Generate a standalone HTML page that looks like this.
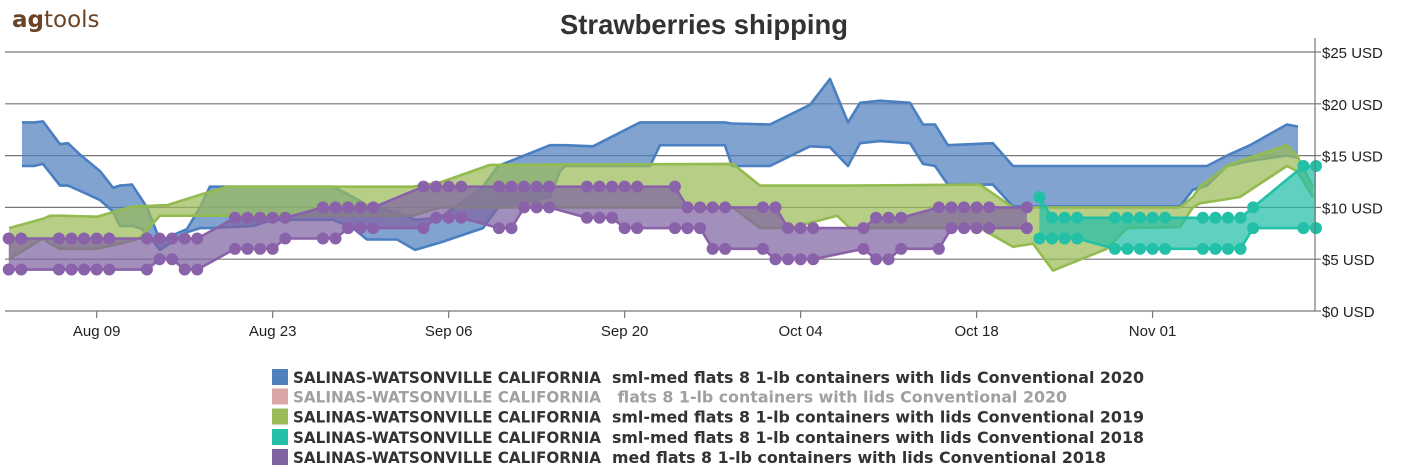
<!DOCTYPE html>
<html><head><meta charset="utf-8"><style>
html,body{margin:0;padding:0;background:#fff;}
svg{display:block;}
text{font-family:"Liberation Sans",sans-serif;}
</style></head><body>
<svg id="chart" width="1410" height="471" viewBox="0 0 1410 471" xmlns="http://www.w3.org/2000/svg">
<text x="12" y="27" font-size="23" fill="#6b4426" style="font-family:'DejaVu Sans',sans-serif"><tspan font-weight="bold">ag</tspan>tools</text>
<text x="704" y="34" text-anchor="middle" font-size="28" font-weight="bold" fill="#333" textLength="288" lengthAdjust="spacingAndGlyphs">Strawberries shipping</text>
<g id="grid"></g>
<g id="series"></g>
<g id="axes"></g>
<g id="legend"></g>
</svg>
<script>
// y-axis ticks
const yTicks = [0, 5, 10, 15, 20, 25];
const yTickLabels = ["$0 USD", "$5 USD", "$10 USD", "$15 USD", "$20 USD", "$25 USD"];
// x-axis ticks (day index from Aug 02)
const xTickDays = [7, 21, 35, 49, 63, 77, 91];
const xTickLabels = ["Aug 09", "Aug 23", "Sep 06", "Sep 20", "Oct 04", "Oct 18", "Nov 01"];

// 2020 sml-med (blue)
const blueDays = [1.06,2.01,2.73,4.08,4.72,5.67,7.26,8.3,8.85,9.81,10.45,11.0,12.04,14.18,15.22,16.01,19.44,21.03,25.8,27.39,28.5,30.89,32.32,34.31,37.73,38.93,43.06,43.86,44.26,46.48,50.22,51.02,51.81,56.98,57.54,60.56,63.75,65.34,66.77,67.73,69.32,71.7,72.74,73.69,74.72,78.3,79.9,93.18,94.21,95.33,96.92,98.75,101.69,102.57];
const blueLow  = [14,14,14.2,12.1,12.1,11.6,10.7,9.6,8.2,8.2,8,7.5,5.9,7.6,8,8,8.2,8.8,8.8,8,6.9,6.9,5.9,6.6,8,10,11,13.5,14,14,14,14,16,16,14,14,15.9,15.8,14,16.2,16.4,16.2,14.2,14,12.2,12.2,10.1,10.1,11.7,12.1,14,14.5,15,14.8];
const blueHigh = [18.2,18.2,18.3,16.1,16.2,15.1,13.5,11.9,12.1,12.2,11,10,6.8,7.9,10,12,12,12,12,11,10.2,9.5,8.8,9,12,14,16,16,16,15.9,18.2,18.2,18.2,18.2,18.1,18,19.9,22.4,18.2,20.1,20.3,20.1,18,18,16,16.2,14,14,14,14,15,16,18,17.8];

// 2019 sml-med (green)
const greenDays = [0.02,2.73,3.29,4.08,7.02,9.89,10.45,12.04,12.59,15.46,17.37,32.16,34.31,38.29,57.62,59.77,62.16,65.9,66.93,77.27,79.9,81.49,83.08,87.37,88.96,93.18,94.21,94.77,96.92,97.95,101.69,102.49,103.76];
const greenLow  = [5,7,6.5,6,6,6.8,7.1,9.2,9.2,9.2,9.2,9.2,10,10,10,8,8,9.2,8,8,6.2,6.5,3.9,6,8,8.1,10,10.4,10.8,11,14,13.5,11];
const greenHigh = [8,8.9,9.2,9.2,9.1,10.1,10.1,10.2,10.2,11.3,12,12,12.4,14.1,14.2,12.1,12.1,12.1,12.1,12.2,10,10,10,10,10,10,11,12,14,14.5,16,15,12];

// 2018 med (purple)
const purpleDays = [0,1,4,5,6,7,8,11,12,13,14,15,18,19,20,21,22,25,26,27,28,29,33,34,35,36,39,40,41,42,43,46,47,48,49,50,53,54,55,56,57,60,61,62,63,64,68,69,70,71,74,75,76,77,78,81];
const purpleLow  = [4,4,4,4,4,4,4,4,5,5,4,4,6,6,6,6,7,7,7,8,8,8,8,9,9,9,8,8,10,10,10,9,9,9,8,8,8,8,8,6,6,6,5,5,5,5,6,5,5,6,6,8,8,8,8,8];
const purpleHigh = [7,7,7,7,7,7,7,7,7,7,7,7,9,9,9,9,9,10,10,10,10,10,12,12,12,12,12,12,12,12,12,12,12,12,12,12,12,10,10,10,10,10,10,8,8,8,8,9,9,9,10,10,10,10,10,10];

// 2018 sml-med (teal)
const tealDays = [82,83,84,85,88,89,90,91,92,95,96,97,98,99,103,104];
const tealLow  = [7,7,7,7,6,6,6,6,6,6,6,6,6,8,8,8];
const tealHigh = [11,9,9,9,9,9,9,9,9,9,9,9,9,10,14,14];

const legendPlaces = ["SALINAS-WATSONVILLE CALIFORNIA","SALINAS-WATSONVILLE CALIFORNIA","SALINAS-WATSONVILLE CALIFORNIA","SALINAS-WATSONVILLE CALIFORNIA","SALINAS-WATSONVILLE CALIFORNIA"];
const legendDescs = ["sml-med flats 8 1-lb containers with lids Conventional 2020"," flats 8 1-lb containers with lids Conventional 2020","sml-med flats 8 1-lb containers with lids Conventional 2019","sml-med flats 8 1-lb containers with lids Conventional 2018","med flats 8 1-lb containers with lids Conventional 2018"];

const NS = "http://www.w3.org/2000/svg";
const X0 = 5, X1 = 1315, Y0 = 311, Y1 = 52;
function xScale(d){ return 8.7 + 12.57 * d; }
function yScale(v){ return Y0 - (v / 25) * (Y0 - Y1); }
function mk(tag, attrs, parent){
  const e = document.createElementNS(NS, tag);
  for (const k in attrs) e.setAttribute(k, attrs[k]);
  parent.appendChild(e); return e;
}
const grid = document.getElementById('grid');
const axes = document.getElementById('axes');
const series = document.getElementById('series');
const legend = document.getElementById('legend');

yTicks.forEach((t, i) => {
  const y = yScale(t);
  const g = mk('line', {x1:X0, x2:X1, y1:y, y2:y, stroke:'#777', 'stroke-width':1.2}, grid);
  
  
  const tk = mk('line', {x1:X1, x2:X1+6, y1:y, y2:y, stroke:'#777', 'stroke-width':1.2}, axes);
  
  
  const tx = mk('text', {x:1322, y:y+6, 'font-size':15, fill:'#222'}, axes);
  tx.textContent = yTickLabels[i];
  
  
});
const ya = mk('line', {x1:X1, x2:X1, y1:Y1-14, y2:Y0, stroke:'#777', 'stroke-width':1.2}, axes);


xTickDays.forEach((d, i) => {
  const x = xScale(d);
  const tk = mk('line', {x1:x, x2:x, y1:Y0, y2:Y0+7, stroke:'#777', 'stroke-width':1.2}, axes);
  
  
  const tx = mk('text', {x:x, y:Y0+25, 'font-size':15, fill:'#222', 'text-anchor':'middle'}, axes);
  tx.textContent = xTickLabels[i];
  
  
});

function band(days, low, high, line, fill, name, dots){
  const g = mk('g', {}, series);
  
  
  const top = days.map((d,i)=>xScale(d).toFixed(1)+','+yScale(high[i]).toFixed(1));
  const bot = days.map((d,i)=>xScale(d).toFixed(1)+','+yScale(low[i]).toFixed(1)).reverse();
  const a = mk('polygon', {points: top.concat(bot).join(' '), fill: fill, 'fill-opacity':0.72, stroke:'none'}, g);
  
  
  [high, low].forEach((arr, k) => {
    const p = mk('polyline', {points: days.map((d,i)=>xScale(d).toFixed(1)+','+yScale(arr[i]).toFixed(1)).join(' '), fill:'none', stroke: line, 'stroke-width':2.6, 'stroke-linejoin':'round'}, g);
    
    
    if (dots) days.forEach((d,i) => {
      const c = mk('circle', {cx:xScale(d), cy:yScale(arr[i]), r:6, fill: line}, g);
      
      
    });
  });
}
band(blueDays, blueLow, blueHigh, '#4a7fc1', '#4f81bd', 'series-2020-sml-med', false);
band(greenDays, greenLow, greenHigh, '#93bb4f', '#9bbb59', 'series-2019-sml-med', false);
band(purpleDays, purpleLow, purpleHigh, '#8a62aa', '#8064a2', 'series-2018-med', true);
band(tealDays, tealLow, tealHigh, '#22c0a6', '#23bfa8', 'series-2018-sml-med', true);

const swatch = ['#4f81bd','#dba6a6','#9bbb59','#23bfa8','#8064a2'];
const rowsY = [377, 396.5, 416.5, 437, 457];
const descLen = [532, 455, 532, 532, 494];
legendPlaces.forEach((p, i) => {
  const g = mk('g', {}, legend);
  
  
  const s = mk('rect', {x:272, y:rowsY[i]-8, width:16, height:16, fill:swatch[i]}, g);
  
  
  const col = i === 1 ? '#a0a0a0' : '#333';
  const t1 = mk('text', {x:293, y:rowsY[i]+6, 'font-size':16, 'font-weight':'bold', fill:col, textLength:308, lengthAdjust:'spacingAndGlyphs', style:"font-family:'DejaVu Sans',sans-serif"}, g);
  t1.textContent = p;
  
  
  const t2 = mk('text', {x: i===1 ? 612 : 612, y:rowsY[i]+6, 'font-size':16, 'font-weight':'bold', fill:col, textLength:descLen[i], lengthAdjust:'spacingAndGlyphs', style:"font-family:'DejaVu Sans',sans-serif;white-space:pre"}, g);
  t2.textContent = legendDescs[i];
  
  
});
</script>
</body></html>
